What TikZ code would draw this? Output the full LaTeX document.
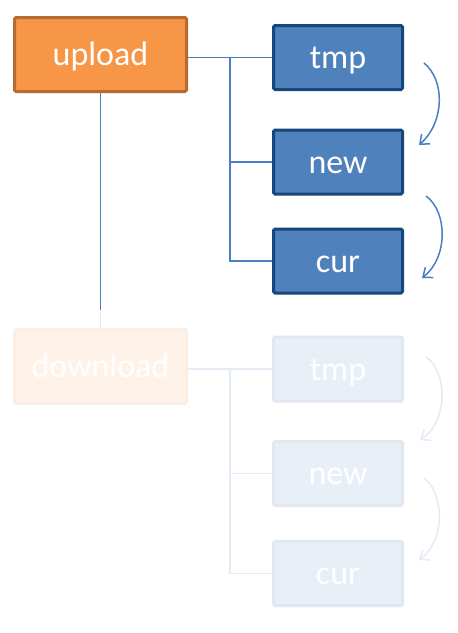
\documentclass[tikz,border=0pt]{standalone}
\usepackage{fontspec}
\setmainfont{Carlito}
\usetikzlibrary{arrows.meta}
\definecolor{orfill}{HTML}{F79646}
\definecolor{ordraw}{HTML}{B66B30}
\definecolor{blfill}{HTML}{4F81BD}
\definecolor{bldraw}{HTML}{15477C}
\definecolor{lnblue}{HTML}{4A7EC4}
\definecolor{faorfill}{HTML}{FEF2E9}
\definecolor{faordraw}{HTML}{FCEEE4}
\definecolor{fablfill}{HTML}{E9EFF7}
\definecolor{fabldraw}{HTML}{E1E8F2}
\definecolor{faline}{HTML}{E4EBF5}
\tikzset{
  x=1pt, y=-1pt,
  lbl/.style={text=white, font=\fontsize{34}{40}\selectfont, inner sep=0pt, text height=29pt, text depth=7pt},
  bigbox/.style={lbl, rectangle, rounded corners=1.5pt, line width=3pt, minimum width=172pt, minimum height=74pt},
  smallbox/.style={lbl, rectangle, rounded corners=1.5pt, line width=3pt, minimum width=129pt, minimum height=64pt},
  topor/.style={bigbox, fill=orfill, draw=ordraw},
  topbl/.style={smallbox, fill=blfill, draw=bldraw},
  faor/.style={bigbox, fill=faorfill, draw=faordraw},
  fabl/.style={smallbox, fill=fablfill, draw=fabldraw},
  conn/.style={draw=lnblue, line width=1.5pt},
  faconn/.style={draw=faline, line width=1.5pt},
  flow/.style={draw=lnblue, line width=1.5pt, -{Straight Barb[length=8pt,width=13pt,line width=1.5pt]}},
  faflow/.style={draw=faline, line width=1.5pt, -{Straight Barb[length=8pt,width=13pt,line width=1.5pt]}},
}
\begin{document}
\begin{tikzpicture}
\useasboundingbox (0,0) rectangle (458,633);
% upper group
\node[topor] (upload) at (100.5,54.5) {upload};
\node[topbl] (tmp) at (338,57.5) {tmp};
\node[topbl] (new) at (338,162) {new};
\node[topbl] (cur) at (338,261) {cur};
\coordinate (ujoint) at (230,57.5);
\draw[conn] (upload.east |- tmp.west) -- (tmp.west);
\draw[conn] (ujoint) |- (new.west);
\draw[conn] (ujoint) |- (cur.west);
% lower group
\node[faor] (download) at (100.5,366.5) {download};
\node[fabl] (dtmp) at (338,369) {tmp};
\node[fabl] (dnew) at (338,473.5) {new};
\node[fabl] (dcur) at (338,573.5) {cur};
\coordinate (djoint) at (230,369);
\draw[faconn] (download.east |- dtmp.west) -- (dtmp.west);
\draw[faconn] (djoint) |- (dnew.west);
\draw[faconn] (djoint) |- (dcur.west);
% link between groups
\coordinate (fade) at (100.5,310);
\draw[conn] (upload.south) -- (fade);
\draw[faconn] (fade) -- (download.north);
% flow arrows
\coordinate (a1s) at (424,63);   \coordinate (a1e) at (419,145);
\coordinate (a2s) at (426,196);  \coordinate (a2e) at (422,278);
\coordinate (a3s) at (426,357);  \coordinate (a3e) at (420,440);
\coordinate (a4s) at (424,478);  \coordinate (a4e) at (419,560);
\draw[flow] (a1s) .. controls (445,80) and (445,122) .. (a1e);
\draw[flow] (a2s) .. controls (448,212) and (448,258) .. (a2e);
\draw[faflow] (a3s) .. controls (448,372) and (448,422) .. (a3e);
\draw[faflow] (a4s) .. controls (445,494) and (445,542) .. (a4e);
\end{tikzpicture}
\end{document}
